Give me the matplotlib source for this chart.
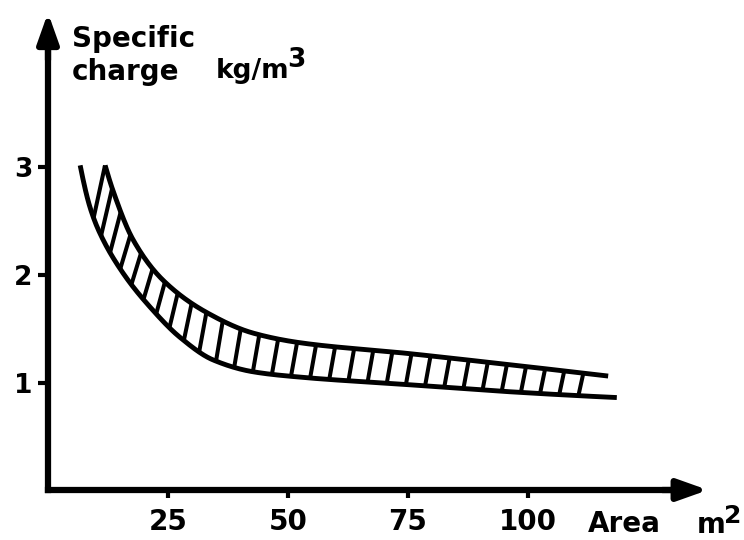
import numpy as np
import matplotlib
matplotlib.use('Agg')
import matplotlib.pyplot as plt

# ---- data ----
lower_x = [6.7, 8.75, 10.8, 15.6, 21.3, 27.5, 34.4, 42.7, 52.5, 75, 94, 118.5]
lower_y = [3.02, 2.63, 2.39, 2.02, 1.70, 1.42, 1.21, 1.10, 1.05, 0.98, 0.92, 0.86]
upper_x = [11.9, 13.5, 17.7, 24, 33.1, 42.7, 52.5, 75, 87.3, 116.7]
upper_y = [3.02, 2.79, 2.33, 1.95, 1.65, 1.46, 1.37, 1.27, 1.21, 1.06]
x_ticks = [25, 50, 75, 100]
y_ticks = [1, 2, 3]
x_tick_labels = ['25', '50', '75', '100']
y_tick_labels = ['1', '2', '3']

plt.rcParams['font.family'] = ['DejaVu Sans']
plt.rcParams['font.weight'] = 'bold'


def pchip(x, y, xn):
    x = np.asarray(x, float)
    y = np.asarray(y, float)
    h = np.diff(x)
    dl = np.diff(y) / h
    n = len(x)
    d = np.zeros(n)
    for k in range(1, n - 1):
        if dl[k - 1] * dl[k] > 0:
            w1 = 2 * h[k] + h[k - 1]
            w2 = h[k] + 2 * h[k - 1]
            d[k] = (w1 + w2) / (w1 / dl[k - 1] + w2 / dl[k])

    def end(h0, h1, d0, d1):
        v = ((2 * h0 + h1) * d0 - h0 * d1) / (h0 + h1)
        if np.sign(v) != np.sign(d0):
            v = 0.0
        elif np.sign(d0) != np.sign(d1) and abs(v) > abs(3 * d0):
            v = 3 * d0
        return v

    d[0] = end(h[0], h[1], dl[0], dl[1])
    d[-1] = end(h[-1], h[-2], dl[-1], dl[-2])
    idx = np.clip(np.searchsorted(x, xn) - 1, 0, n - 2)
    t = (xn - x[idx]) / h[idx]
    h00 = 2 * t ** 3 - 3 * t ** 2 + 1
    h10 = t ** 3 - 2 * t ** 2 + t
    h01 = -2 * t ** 3 + 3 * t ** 2
    h11 = t ** 3 - t ** 2
    return h00 * y[idx] + h10 * h[idx] * d[idx] + h01 * y[idx + 1] + h11 * h[idx] * d[idx + 1]


W, H = 744, 540
fig = plt.figure(figsize=(W / 100, H / 100), dpi=100)
ax = fig.add_axes([0, 0, 1, 1])
ax.set_xlim(-10, 145)
ax.set_ylim(-0.465, 4.558)

# curves
lx = np.linspace(lower_x[0], lower_x[-1], 600)
ly = pchip(lower_x, lower_y, lx)
ux = np.linspace(upper_x[0], upper_x[-1], 600)
uy = pchip(upper_x, upper_y, ux)
ax.plot(lx, ly, color='black', lw=3.5, solid_capstyle='butt')
ax.plot(ux, uy, color='black', lw=3.5, solid_capstyle='butt')

# hatch strokes between the curves (evenly spaced along the lower curve on screen)
fig.canvas.draw()
pts = ax.transData.transform(np.column_stack([lx, ly]))
dd = np.diff(pts, axis=0)
s = np.concatenate([[0], np.cumsum(np.hypot(dd[:, 0], dd[:, 1]))])
s_start = np.interp(9.5, lx, s)
s_end = np.interp(110.5, lx, s)
for sv in np.linspace(s_start, s_end, 30):
    x0 = np.interp(sv, s, lx)
    y0 = np.interp(x0, lx, ly)
    k = np.interp(x0, [9, 20, 35, 60, 120], [2.4, 1.9, 1.4, 1.2, 1.0])
    x1 = x0 + k
    y1 = np.interp(x1, ux, uy)
    ax.plot([x0, x1], [y0, y1], color='black', lw=2.9, solid_capstyle='butt')

# axes
for sp in ['top', 'right']:
    ax.spines[sp].set_visible(False)
ax.spines['left'].set_position(('data', 0))
ax.spines['bottom'].set_position(('data', 0))
ax.spines['left'].set_linewidth(4.5)
ax.spines['bottom'].set_linewidth(4.5)
ax.spines['left'].set_bounds(0, 4.2)
ax.spines['bottom'].set_bounds(0, 132)
arrow_style = '-|>,head_length=0.9,head_width=0.32'
ax.annotate('', xy=(0, 4.44), xytext=(0, 4.0),
            arrowprops=dict(arrowstyle=arrow_style, lw=4.5, color='black', mutation_scale=20,
                            shrinkA=0, shrinkB=0))
ax.annotate('', xy=(137.5, 0), xytext=(128, 0),
            arrowprops=dict(arrowstyle=arrow_style, lw=4.5, color='black', mutation_scale=20,
                            shrinkA=0, shrinkB=0))

ax.set_xticks(x_ticks)
ax.set_xticklabels(x_tick_labels, fontsize=20, fontweight='bold')
ax.set_yticks(y_ticks)
ax.set_yticklabels(y_tick_labels, fontsize=19, fontweight='bold')
ax.tick_params(axis='x', direction='out', length=6, width=3, pad=7)
ax.tick_params(axis='y', direction='out', length=7, width=3, pad=4)

# labels
fs = 20
fig.text(72 / W, 1 - 47 / H, 'Specific', fontsize=fs, fontweight='bold', va='baseline')
fig.text(72 / W, 1 - 80 / H, 'charge', fontsize=fs, fontweight='bold', va='baseline')
fig.text(216 / W, 1 - 78 / H, 'kg/m', fontsize=19, fontweight='bold', va='baseline')
fig.text(287 / W, 1 - 67 / H, '3', fontsize=19, fontweight='bold', va='baseline')
fig.text(588 / W, 1 - 532 / H, 'Area', fontsize=fs, fontweight='bold', va='baseline')
fig.text(697 / W, 1 - 533 / H, 'm', fontsize=fs, fontweight='bold', va='baseline')
fig.text(724 / W, 1 - 523 / H, '2', fontsize=18, fontweight='bold', va='baseline')

fig.savefig('out.png', dpi=100)
